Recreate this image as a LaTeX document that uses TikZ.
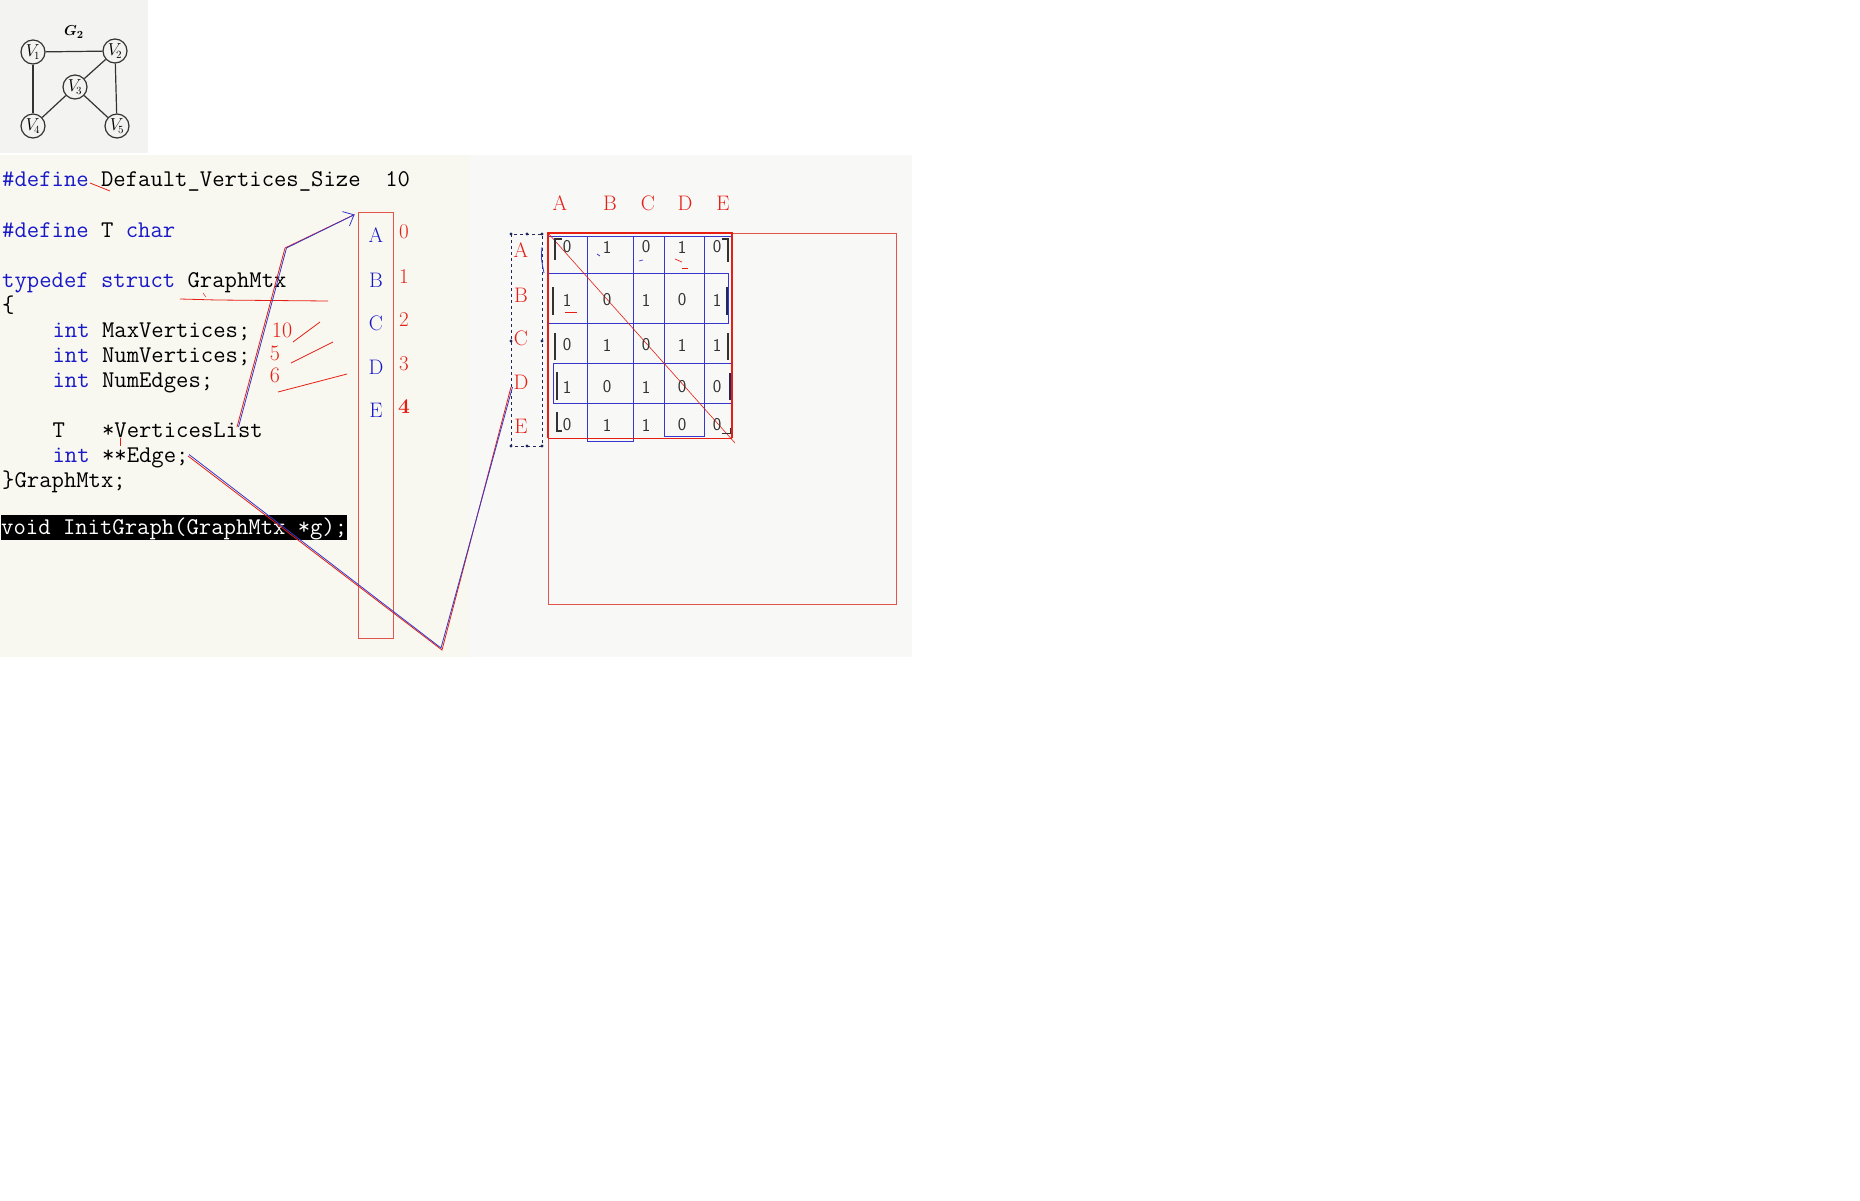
\documentclass[tikz,border=0pt]{standalone}
\usepackage{fontspec}
\usetikzlibrary{arrows.meta}
\definecolor{kwblue}{RGB}{25,25,200}
\definecolor{penred}{RGB}{230,30,20}
\definecolor{boxred}{RGB}{225,85,75}
\definecolor{penblue}{RGB}{55,55,205}
\definecolor{navy}{RGB}{30,40,95}
\definecolor{digitgray}{RGB}{50,50,50}
\definecolor{paper}{RGB}{248,248,240}
\definecolor{paperright}{RGB}{248,248,247}
\definecolor{thumb}{RGB}{243,243,241}
\newcommand{\kw}[1]{\textcolor{kwblue}{#1}}
\newcommand{\codefont}{\fontsize{24}{28}\selectfont\ttfamily}

\begin{document}
\begin{tikzpicture}[
    x=1pt, y=-1pt,
    code/.style={anchor=base west, inner sep=0pt, font=\codefont},
    note/.style={text=penred, inner sep=0pt, font=\fontsize{22}{24}\selectfont},
    letter/.style={inner sep=0pt, font=\fontsize{21}{23}\selectfont},
    cell/.style={inner sep=0pt, text=digitgray, font=\sffamily\fontsize{18}{20}\selectfont},
    vertex/.style={draw=black!80, circle, minimum size=24pt, inner sep=0pt,
      line width=1.2pt, font=\fontsize{16}{18}\selectfont},
    pen/.style={penred, line width=0.8pt},
    ink/.style={penblue, line width=0.8pt},
    grid/.style={penblue, line width=0.9pt},
    bracket/.style={digitgray, line width=1.6pt},
    ]

    \useasboundingbox (0,0) rectangle (1860,1200);
    \fill[white] (0,0) rectangle (1860,1200);
    \fill[thumb] (0,0) rectangle (148,153);
    \fill[paper] (0,155) rectangle (470,657);
    \fill[paperright] (470,155) rectangle (912,657);

    % the graph G2
    \node[font=\fontsize{15}{17}\selectfont\boldmath] (gname) at (74,32) {$G_2$};
    \node[vertex] (g1) at (33,52)  {$V_{\!1}$};
    \node[vertex] (g2) at (115,51) {$V_{\!2}$};
    \node[vertex] (g3) at (75,87)  {$V_{\!3}$};
    \node[vertex] (g4) at (33,126) {$V_{\!4}$};
    \node[vertex] (g5) at (117,126) {$V_{\!5}$};
    \path[draw=black!80, line width=1.2pt]
    (g1) edge (g2)
         edge (g4)
    (g2) edge (g3)
         edge (g5)
    (g3) edge (g4)
         edge (g5);

    % the code
    \node[code] (def1) at (2,186) {\kw{\#define} Default\_Vertices\_Size\ \ 10};
    \node[code] (def2) at (2,237) {\kw{\#define} T \kw{char}};
    \node[code] (tdef) at (2,287) {\kw{typedef struct} GraphMtx};
    \node[code] (lbrace) at (2,312) {\{};
    \node[code] (maxv) at (52.4,337) {\kw{int} MaxVertices;};
    \node[code] (numv) at (52.4,362) {\kw{int} NumVertices;};
    \node[code] (nume) at (52.4,387) {\kw{int} NumEdges;};
    \node[code] (vlist) at (52.4,437) {T\ \ \ *VerticesList};
    \node[code] (edge) at (52.4,462) {\kw{int} **Edge;};
    \node[code] (rbrace) at (2,487) {\}GraphMtx;};
    \node[code, fill=black, text=white, text height=19pt, text depth=6pt]
      (init) at (1,534) {void InitGraph(GraphMtx *g);};

    % values written beside the fields
    \node[note] (n10) at (282,330) {10};
    \node[note] (n5) at (275,353) {5};
    \node[note] (n6) at (275,375) {6};
    \draw[pen] (293,342) -- (320,322);
    \draw[pen] (291,363) -- (333,342);
    \draw[pen] (278,392) -- (347,374);
    \draw[pen] (90,183) -- (110,191);
    \draw[pen] (180,299) -- (217,300) -- (328,301);
    \draw[pen, line width=0.5pt] (203,293) -- (206,297);
    \draw[pen, line width=0.5pt] (120,438) -- (120,446);

    % vertex list
    \node[draw=boxred, line width=0.9pt, minimum width=35pt, minimum height=426pt,
      inner sep=0pt] (vbox) at (375.5,425) {};
    \foreach \name/\idx/\y in {A/0/235, B/1/280, C/2/323, D/3/367, E/4/410}{
      \node[letter, text=kwblue] (v\idx) at (376,\y) {\name};
      \node[letter, text=penred] (i\idx) at (404,\y-3)
        {\ifnum\idx=4 \bfseries\fi\idx};
    }

    % pointer of VerticesList
    \coordinate (vlistpt) at (237,427);
    \coordinate (kink) at (285,248);
    \coordinate (vtip) at ([shift={(-3,3)}]vbox.north west);
    \draw[pen] (vlistpt) -- (kink) -- (vtip);
    \draw[ink, -{Straight Barb[length=9pt, width=16pt]}]
      ([xshift=1.5pt]vlistpt) -- ([xshift=1.5pt]kink) -- (vtip);

    % row labels of the matrix
    \draw[navy, dashed, line width=0.9pt] (511,234) rectangle (542,446);
    \foreach \x/\y in {511/234, 527/234, 542/234, 511/341, 542/341,
                       511/446, 527/446, 542/446}
      \fill[navy] (\x,\y) circle (1.6);
    \foreach \name/\y in {A/250, B/295, C/338, D/382, E/426}
      \node[letter, text=penred] (r\name) at (521,\y) {\name};
    \foreach \name/\x in {A/560, B/610, C/648, D/685, E/723}
      \node[letter, text=penred] (h\name) at (\x,203) {\name};

    % pointer of Edge
    \coordinate (edgept) at (188,456);
    \coordinate (bend) at (442,650);
    \coordinate (dtick) at ([yshift=-5pt]rD.west -| 511,0);
    \draw[pen] (edgept) -- (bend) -- (dtick);
    \draw[ink] ([shift={(1,-1.5)}]edgept) -- ([shift={(-1,-2)}]bend)
      -- ([xshift=1.5pt]dtick);

    % the matrix
    \draw[boxred, line width=0.9pt] (548,233) rectangle (896,604);
    \draw[grid] (587,236) rectangle (633,441);
    \draw[grid] (664,236) rectangle (704,436);
    \draw[grid] (548,273) rectangle (728,323);
    \draw[grid] (553,363) rectangle (731,403);
    \draw[grid] (548,236) -- (732,236);
    \draw[penred, line width=1.6pt] (548,438) -- (548,233) -- (732,233) -- (732,438);
    \draw[penred, line width=0.9pt] (548,438) -- (732,438);
    \draw[penred, line width=0.6pt] (548,233) -- (735,443);

    \foreach \row/\y/\ma/\mb/\mc/\md/\me in
      {1/247/0/1/0/1/0, 2/300/1/0/1/0/1, 3/345/0/1/0/1/1,
       4/387/1/0/1/0/0, 5/425/0/1/1/0/0}{
      \foreach \col/\x/\v in {1/567/\ma, 2/607/\mb, 3/646/\mc, 4/682/\md, 5/717/\me}
        \node[cell] (m\row\col) at (\x,\y) {\v};
    }

    % brackets round the values
    \draw[bracket] (562,239) -- (555,239) -- (555,260);
    \draw[bracket] (553,287) -- (553,315);
    \draw[bracket] (555,333) -- (555,360);
    \draw[bracket] (557,372) -- (557,400);
    \draw[bracket, line width=1.2pt] (557,412) -- (557,431) -- (562,431);
    \draw[bracket] (722,239) -- (728,239) -- (728,262);
    \draw[bracket, navy] (727,287) -- (727,315);
    \draw[bracket] (728,333) -- (728,360);
    \draw[bracket, navy] (730,373) -- (730,400);
    \draw[bracket, line width=1pt] (722,433) -- (730,433) -- (730,428);

    % marks of the pen
    \draw[pen, line width=0.7pt] (675,259) -- (682,262);
    \draw[pen, line width=0.7pt] (682,268) -- (688,268);
    \draw[pen, line width=0.7pt] (565,312) -- (577,312);
    \draw[ink, line width=0.7pt] (597,254) -- (600,256);
    \draw[ink, line width=0.7pt] (639,261) -- (643,260);
    \draw[ink] (542,247) .. controls (541,258) .. (544,273);

  \end{tikzpicture}
\end{document}
